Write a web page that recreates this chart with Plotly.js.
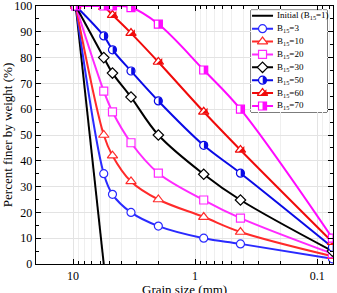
<!DOCTYPE html>
<html>
<head>
<meta charset="utf-8">
<script src="https://cdn.plot.ly/plotly-3.0.1.min.js"></script>
<style>html,body{margin:0;padding:0;background:#fff;}#chart{width:337px;height:293px;}</style>
</head>
<body>
<div id="chart"></div>
<script>
// ---- data ----
const grainSize = [9.5, 5.6, 4.75, 3.35, 2.0, 0.85, 0.425, 0.075];
const initialSize = [9.5, 5.6];
const initialFiner = [100, 0];
const b3  = [100, 35, 27, 20, 14.7, 10, 7.8, 2];
const b10 = [100, 50, 42, 32, 25, 18.2, 12.4, 3];
const b20 = [100, 67, 59, 47, 35.2, 24.8, 17.8, 4];
const b30 = [100, 80, 74, 64.7, 50, 34.8, 24.8, 5];
const b50 = [100, 88.4, 83, 74.8, 63.2, 46, 35.2, 6.5];
const b60 = [100, 99.6, 96.5, 89.5, 78.3, 59, 44.2, 8.5];
const b70 = [100, 100, 100, 99.4, 93, 75.2, 60, 10];
const seriesNames = ['Initial (B<sub>15</sub>=1)', 'B<sub>15</sub>=3', 'B<sub>15</sub>=10', 'B<sub>15</sub>=20',
  'B<sub>15</sub>=30', 'B<sub>15</sub>=50', 'B<sub>15</sub>=60', 'B<sub>15</sub>=70'];
const xTickVals = [10, 1, 0.1];
const yTickVals = [0, 10, 20, 30, 40, 50, 60, 70, 80, 90, 100];
const xTitle = 'Grain size (mm)';
const yTitle = 'Percent finer by weight (%)';

// ---- styles ----
const FONT = 'Liberation Serif';
// half: overlay marker that fills the left half of the base symbol
const styles = [
  {color: '#000000', symbol: null},
  {color: '#2a2aff', symbol: 'circle', size: 8},
  {color: '#ff2a2a', symbol: 'triangle-up', size: 9},
  {color: '#ff2aff', symbol: 'square', size: 8},
  {color: '#000000', symbol: 'diamond', size: 8},
  {color: '#0a0ae6', symbol: 'circle', size: 8,
    half: {symbol: 'line-ew', size: 4.6, angle: 270, standoff: 1.9, width: 3.4}},
  {color: '#f00a0a', symbol: 'triangle-up', size: 9,
    half: {symbol: 'triangle-sw', size: 6.6, angle: 270, standoff: 1.9, width: 0, fill: true}},
  {color: '#ff0aff', symbol: 'square', size: 8,
    half: {symbol: 'line-ew', size: 5.7, angle: 270, standoff: 2, width: 4}}
];
function markerFor(st) {
  return {symbol: st.symbol, size: st.size, color: 'white', line: {color: st.color, width: 1.2}};
}
function halfMarker(st) {
  const h = st.half;
  return {symbol: h.symbol, size: h.size, angle: h.angle, standoff: h.standoff,
    color: h.fill ? st.color : 'rgba(0,0,0,0)', line: {color: st.color, width: h.width}};
}

const allY = [initialFiner, b3, b10, b20, b30, b50, b60, b70];
const traces = [];
allY.forEach((ys, i) => {
  const st = styles[i];
  if (i === 0) {
    traces.push({x: initialSize, y: ys, mode: 'lines', line: {color: st.color, width: 2}, showlegend: false, hoverinfo: 'skip'});
  } else {
    traces.push({x: grainSize, y: ys, mode: 'lines+markers',
      line: {color: st.color, width: 2, shape: 'spline', smoothing: 1},
      marker: markerFor(st), showlegend: false, hoverinfo: 'skip'});
    if (st.half) traces.push({x: grainSize, y: ys, mode: 'markers', marker: halfMarker(st),
      showlegend: false, hoverinfo: 'skip'});
  }
});

// ---- hand-made legend on an overlay axis (rows by series index) ----
const L = {x0: 1, x1: 22, xm: 11.5, xt: 23.5};
const annotations = [];
seriesNames.forEach((name, i) => {
  const st = styles[i];
  traces.push({x: [L.x0, L.x1], y: [i, i], xaxis: 'x2', yaxis: 'y2', mode: 'lines',
    line: {color: st.color, width: 2}, showlegend: false, hoverinfo: 'skip'});
  if (st.symbol) {
    traces.push({x: [L.xm], y: [i], xaxis: 'x2', yaxis: 'y2', mode: 'markers',
      marker: markerFor(st), showlegend: false, hoverinfo: 'skip', cliponaxis: false});
    if (st.half) traces.push({x: [L.xm], y: [i], xaxis: 'x2', yaxis: 'y2', mode: 'markers',
      marker: halfMarker(st), showlegend: false, hoverinfo: 'skip', cliponaxis: false});
  }
  annotations.push({xref: 'x2', yref: 'y2', x: L.xt, y: i, text: name, showarrow: false,
    xanchor: 'left', yanchor: 'middle', font: {family: FONT, size: 9, color: '#000'}});
});
// x-axis title placed a little lower than Plotly's margin-constrained position
annotations.push({xref: 'paper', yref: 'paper', x: 0.5, y: -0.063, yanchor: 'top', xanchor: 'center',
  text: xTitle, showarrow: false, font: {family: FONT, size: 13, color: '#000'}});

const W = 337, H = 293;
const layout = {
  width: W, height: H,
  margin: {l: 36, r: 4, t: 6, b: 29},
  paper_bgcolor: '#fff', plot_bgcolor: '#fff',
  font: {family: FONT, size: 12, color: '#000'},
  showlegend: false,
  xaxis: {
    type: 'log', range: [Math.log10(20.1), Math.log10(0.0742)],
    tickvals: xTickVals, ticktext: xTickVals.map(String),
    ticks: 'inside', ticklen: 5, tickwidth: 1, tickcolor: '#000',
    showline: true, linecolor: '#000', linewidth: 1.3, mirror: 'ticks',
    showgrid: true, gridcolor: '#e3e3e3', gridwidth: 1,
    minor: {dtick: 'D1', ticks: 'inside', ticklen: 3, tickcolor: '#000', showgrid: true, gridcolor: '#efefef', gridwidth: 1},
    tickfont: {family: FONT, size: 12}, ticklabeloverflow: 'allow',
    automargin: false, zeroline: false
  },
  yaxis: {
    range: [0, 100], tickvals: yTickVals, ticktext: yTickVals.map(String),
    ticks: 'inside', ticklen: 5, tickwidth: 1, tickcolor: '#000',
    showline: true, linecolor: '#000', linewidth: 1.3, mirror: 'ticks',
    showgrid: true, gridcolor: '#e3e3e3', gridwidth: 1,
    minor: {dtick: 5, ticks: 'inside', ticklen: 3, tickcolor: '#000', showgrid: false},
    tickfont: {family: FONT, size: 12}, ticklabeloverflow: 'allow',
    title: {text: yTitle, font: {family: FONT, size: 13}, standoff: 6},
    automargin: false, zeroline: false
  },
  xaxis2: {domain: [0.724, 0.980], range: [0, 76], anchor: 'y2', visible: false, fixedrange: true},
  yaxis2: {domain: [0.589, 0.984], range: [7.47, -0.44], anchor: 'x2', visible: false, fixedrange: true},
  shapes: [{type: 'rect', xref: 'paper', yref: 'paper', x0: 0.724, x1: 0.980, y0: 0.589, y1: 0.984,
    line: {color: '#000', width: 1}, fillcolor: '#fff', layer: 'below'}],
  annotations: annotations
};

Plotly.newPlot('chart', traces, layout, {displayModeBar: false, staticPlot: true});
</script>
</body>
</html>
